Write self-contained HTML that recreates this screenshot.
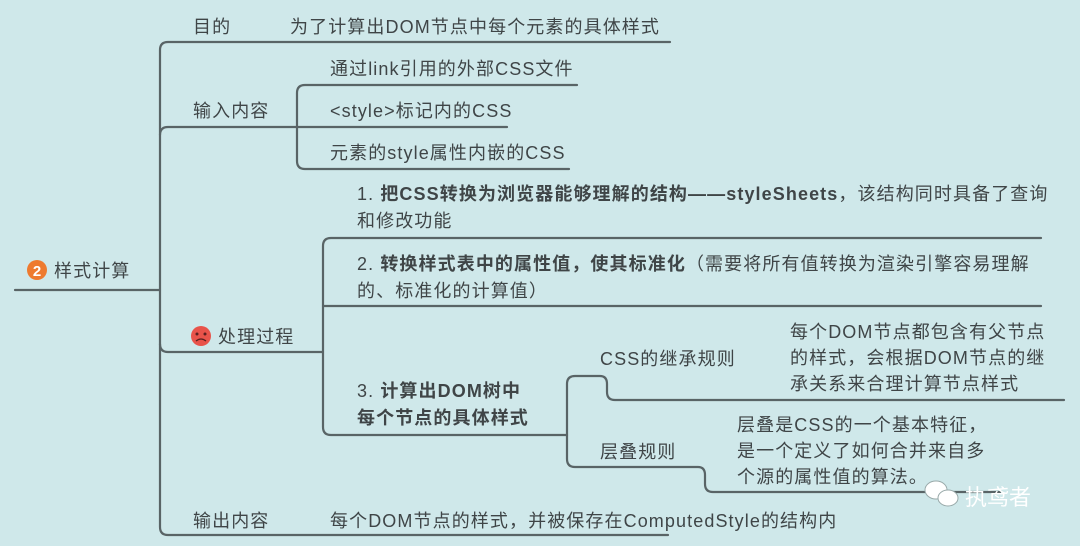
<!DOCTYPE html>
<html><head><meta charset="utf-8"><style>
html,body{margin:0;padding:0;background:#cfe8ea;}
svg{display:block;}
text{font-family:"Liberation Sans","Noto Sans CJK SC",sans-serif;font-size:18px;letter-spacing:1.1px;fill:#3f4547;}
.b{font-weight:bold;}
</style></head><body>
<svg width="1080" height="546" viewBox="0 0 1080 546" xmlns="http://www.w3.org/2000/svg">
<rect width="1080" height="546" fill="#cfe8ea"/>
<g fill="none" stroke="#596466" stroke-width="2.2" stroke-linecap="round">
<line x1="15" y1="290" x2="160" y2="290"/>
<path d="M670 42 H168 Q160 42 160 50 V527 Q160 535 168 535 H668"/>
<path d="M160 135 Q160 127 168 127 H507"/>
<path d="M160 344 Q160 352 168 352 H323"/>
<path d="M577 85 H305 Q297 85 297 93 V161 Q297 169 305 169 H569"/>
<path d="M1041 238 H331 Q323 238 323 246 V427 Q323 435 331 435 H567"/>
<line x1="323" y1="306" x2="1041" y2="306"/>
<path d="M567 435 V384 Q567 376 575 376 H600 Q607 376 607 384 V392 Q607 400 615 400 H1064"/>
<path d="M567 435 V459 Q567 467 575 467 H698 Q705 467 705 475 V484 Q705 492 713 492 H1000"/>
</g>
<circle cx="37" cy="270" r="10" fill="#ee7a2f"/>
<text x="37" y="276" text-anchor="middle" style="fill:#fff;font-size:15px;font-weight:bold;letter-spacing:0">2</text>
<text x="54" y="277">样式计算</text>
<text x="193" y="33">目的</text>
<text x="290" y="33">为了计算出DOM节点中每个元素的具体样式</text>
<text x="193" y="117">输入内容</text>
<text x="330" y="75">通过link引用的外部CSS文件</text>
<text x="330" y="117">&lt;style&gt;标记内的CSS</text>
<text x="330" y="159">元素的style属性内嵌的CSS</text>
<circle cx="201" cy="336" r="10" fill="#e8534a"/>
<circle cx="197" cy="334" r="1.5" fill="#5a2020"/>
<circle cx="205" cy="334" r="1.5" fill="#5a2020"/>
<path d="M196 341 Q201 337 206 341" stroke="#5a2020" stroke-width="1.3" fill="none"/>
<text x="218" y="343">处理过程</text>
<text x="357" y="200"><tspan>1. </tspan><tspan class="b">把CSS转换为浏览器能够理解的结构——styleSheets</tspan><tspan>，该结构同时具备了查询</tspan></text>
<text x="357" y="227">和修改功能</text>
<text x="357" y="270"><tspan>2. </tspan><tspan class="b">转换样式表中的属性值，使其标准化</tspan><tspan>（需要将所有值转换为渲染引擎容易理解</tspan></text>
<text x="357" y="297">的、标准化的计算值）</text>
<text x="357" y="397"><tspan>3. </tspan><tspan class="b">计算出DOM树中</tspan></text>
<text x="357" y="424" class="b">每个节点的具体样式</text>
<text x="600" y="365">CSS的继承规则</text>
<text x="790" y="338">每个DOM节点都包含有父节点</text>
<text x="790" y="364">的样式，会根据DOM节点的继</text>
<text x="790" y="390">承关系来合理计算节点样式</text>
<text x="600" y="458">层叠规则</text>
<text x="737" y="431">层叠是CSS的一个基本特征，</text>
<text x="737" y="457">是一个定义了如何合并来自多</text>
<text x="737" y="483">个源的属性值的算法。</text>
<text x="193" y="527">输出内容</text>
<text x="330" y="527">每个DOM节点的样式，并被保存在ComputedStyle的结构内</text>
<g fill="#fff" stroke="#9aa" stroke-width="1">
<ellipse cx="936" cy="490" rx="11" ry="9"/>
<ellipse cx="948" cy="498" rx="10" ry="8"/>
</g>
<text x="965" y="505" style="fill:#fff;font-size:22px;letter-spacing:0">执鸢者</text>
</svg>
</body></html>
